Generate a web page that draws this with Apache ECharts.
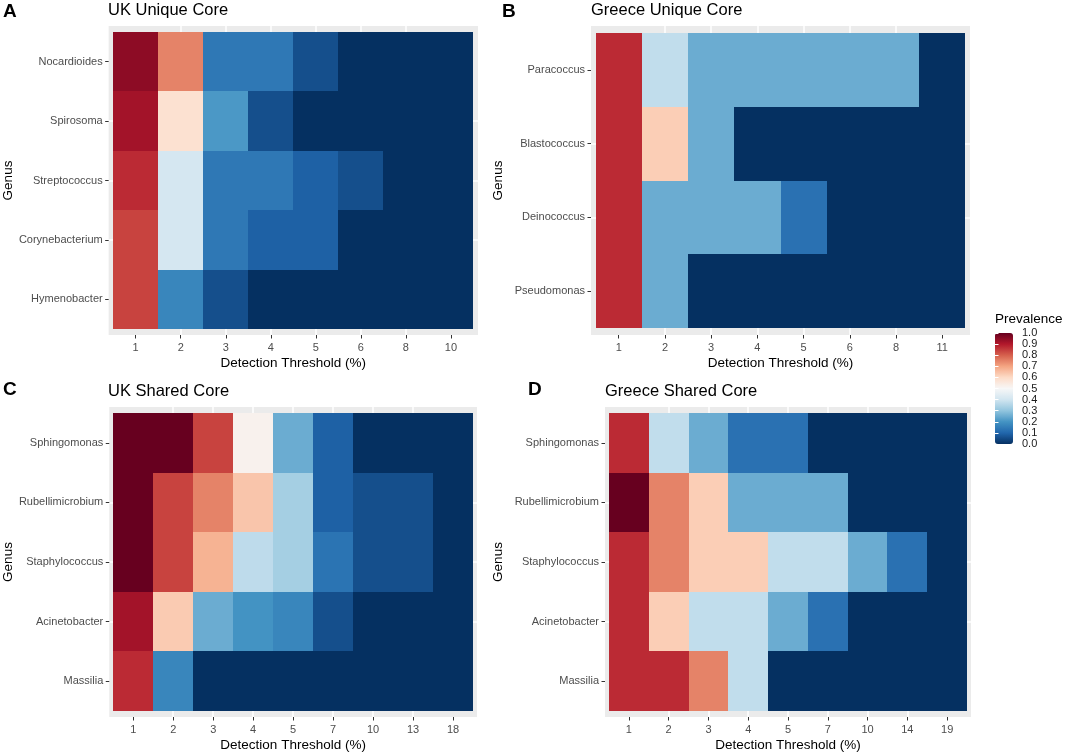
<!DOCTYPE html>
<html>
<head>
<meta charset="utf-8">
<script src="https://cdn.jsdelivr.net/npm/echarts@6/dist/echarts.min.js"></script>
<style>
html,body{margin:0;padding:0;background:#fff;}
#chart{width:1065px;height:754px;}
</style>
</head>
<body>
<div id="chart"></div>
<script>
// ---------------- DATA ----------------
const ukUniqueThresholds = ['1','2','3','4','5','6','8','10'];
const ukUniqueGenus = ['Nocardioides','Spirosoma','Streptococcus','Corynebacterium','Hymenobacter'];
const ukUniquePrev = [
  [0.95, 0.75, 0.14, 0.14, 0.057, 0, 0, 0],
  [0.92, 0.58, 0.21, 0.057, 0, 0, 0, 0],
  [0.875, 0.41, 0.14, 0.14, 0.09, 0.057, 0, 0],
  [0.84, 0.41, 0.14, 0.09, 0.09, 0, 0, 0],
  [0.84, 0.17, 0.057, 0, 0, 0, 0, 0]
];

const grUniqueThresholds = ['1','2','3','4','5','6','8','11'];
const grUniqueGenus = ['Paracoccus','Blastococcus','Deinococcus','Pseudomonas'];
const grUniquePrev = [
  [0.875, 0.375, 0.25, 0.25, 0.25, 0.25, 0.25, 0],
  [0.875, 0.625, 0.25, 0, 0, 0, 0, 0],
  [0.875, 0.25, 0.25, 0.25, 0.125, 0, 0, 0],
  [0.875, 0.25, 0, 0, 0, 0, 0, 0]
];

const ukSharedThresholds = ['1','2','3','4','5','7','10','13','18'];
const sharedGenus = ['Sphingomonas','Rubellimicrobium','Staphylococcus','Acinetobacter','Massilia'];
const ukSharedPrev = [
  [1.0, 1.0, 0.84, 0.52, 0.25, 0.09, 0, 0, 0],
  [1.0, 0.84, 0.75, 0.64, 0.33, 0.09, 0.057, 0.057, 0],
  [1.0, 0.84, 0.675, 0.37, 0.33, 0.13, 0.057, 0.057, 0],
  [0.92, 0.63, 0.25, 0.2, 0.17, 0.057, 0, 0, 0],
  [0.875, 0.17, 0, 0, 0, 0, 0, 0, 0]
];

const grSharedThresholds = ['1','2','3','4','5','7','10','14','19'];
const grSharedPrev = [
  [0.875, 0.375, 0.25, 0.125, 0.125, 0, 0, 0, 0],
  [1.0, 0.75, 0.625, 0.25, 0.25, 0.25, 0, 0, 0],
  [0.875, 0.75, 0.625, 0.625, 0.375, 0.375, 0.25, 0.125, 0],
  [0.875, 0.625, 0.375, 0.375, 0.25, 0.125, 0, 0, 0],
  [0.875, 0.875, 0.75, 0.375, 0, 0, 0, 0, 0]
];

const panelTitles = ['UK Unique Core','Greece Unique Core','UK Shared Core','Greece Shared Core'];
const panelTags = ['A','B','C','D'];
const legendTicks = [0,0.1,0.2,0.3,0.4,0.5,0.6,0.7,0.8,0.9,1.0];
const rdbu = ['#053061','#2166ac','#4393c3','#92c5de','#d1e5f0','#f7f7f7','#fddbc7','#f4a582','#d6604d','#b2182b','#67001f'];

// ---------------- LAYOUT ----------------
const FONT = '"Liberation Sans", Arial, Helvetica, sans-serif';
const panels = [
  {th: ukUniqueThresholds, ge: ukUniqueGenus, pv: ukUniquePrev, grid:{left:108, top:26, width:370, height:309}, gap:90, title:[108,2], tag:[3,2]},
  {th: grUniqueThresholds, ge: grUniqueGenus, pv: grUniquePrev, grid:{left:591, top:26, width:379, height:309}, gap:86, title:[591,2], tag:[502,2]},
  {th: ukSharedThresholds, ge: sharedGenus, pv: ukSharedPrev, grid:{left:108, top:407, width:369, height:310}, gap:90, title:[108,383], tag:[3,380]},
  {th: grSharedThresholds, ge: sharedGenus, pv: grSharedPrev, grid:{left:605, top:407, width:366, height:310}, gap:100, title:[605,383], tag:[528,380]}
];

function renderTile(params, api) {
  const x = api.value(0), y = api.value(1);
  const p1 = api.coord([x - 0.5, y - 0.5]);
  const p2 = api.coord([x + 0.5, y + 0.5]);
  const x0 = Math.round(Math.min(p1[0], p2[0])), x1 = Math.round(Math.max(p1[0], p2[0]));
  const y0 = Math.round(Math.min(p1[1], p2[1])), y1 = Math.round(Math.max(p1[1], p2[1]));
  return {
    type: 'rect',
    shape: {x: x0, y: y0, width: x1 - x0, height: y1 - y0},
    style: {fill: api.visual('color')}
  };
}

const grids = [], xAxes = [], yAxes = [], series = [], titles = [];
panels.forEach((p, i) => {
  grids.push(Object.assign({show: true, backgroundColor: '#EBEBEB', borderWidth: 0}, p.grid));
  const nx = p.th.length, ny = p.ge.length;
  const xVals = p.th.map((_, k) => k + 1);
  const yVals = p.ge.map((_, k) => k + 1);
  xAxes.push({
    type: 'value', gridIndex: i, min: 0.4, max: nx + 0.6, minInterval: 1, maxInterval: 1,
    axisLine: {show: false},
    axisTick: {show: true, length: 3.5, lineStyle: {color: '#333333', width: 1}, customValues: xVals},
    axisLabel: {customValues: xVals, color: '#4D4D4D', fontSize: 11, fontFamily: FONT, margin: 7,
      formatter: v => p.th[Math.round(v) - 1]},
    splitLine: {show: true, showMinLine: false, showMaxLine: false, lineStyle: {color: '#FFFFFF', width: 1.5}},
    name: 'Detection Threshold (%)', nameLocation: 'middle', nameGap: 21,
    nameTextStyle: {color: '#000', fontSize: 13.5, fontFamily: FONT}
  });
  yAxes.push({
    type: 'value', gridIndex: i, min: 0.4, max: ny + 0.6, inverse: true, minInterval: 1, maxInterval: 1,
    axisLine: {show: false},
    axisTick: {show: true, length: 3.5, lineStyle: {color: '#333333', width: 1}, customValues: yVals},
    axisLabel: {customValues: yVals, color: '#4D4D4D', fontSize: 11, fontFamily: FONT, margin: 6,
      formatter: v => p.ge[Math.round(v) - 1]},
    splitLine: {show: true, showMinLine: false, showMaxLine: false, lineStyle: {color: '#FFFFFF', width: 1.5}},
    name: 'Genus', nameLocation: 'middle', nameRotate: 90, nameGap: p.gap,
    nameTextStyle: {color: '#000', fontSize: 13.5, fontFamily: FONT}
  });
  const data = [];
  p.pv.forEach((row, r) => row.forEach((v, c) => data.push([c + 1, r + 1, v])));
  series.push({
    type: 'custom', coordinateSystem: 'cartesian2d', xAxisIndex: i, yAxisIndex: i,
    encode: {x: 0, y: 1}, renderItem: renderTile, data: data, silent: true
  });
  titles.push({text: panelTitles[i], left: p.title[0], top: p.title[1], padding: 0,
    textStyle: {fontSize: 16.5, fontWeight: 'normal', color: '#000', fontFamily: FONT}});
  titles.push({text: panelTags[i], left: p.tag[0], top: p.tag[1], padding: 0,
    textStyle: {fontSize: 19, fontWeight: 'bold', color: '#000', fontFamily: FONT}});
});

// legend
titles.push({text: 'Prevalence', left: 995, top: 312, padding: 0,
  textStyle: {fontSize: 13.5, fontWeight: 'normal', color: '#000', fontFamily: FONT}});
grids.push({left: 995, top: 333, width: 18, height: 111, show: false});
xAxes.push({type: 'value', gridIndex: 4, show: false, min: 0, max: 1});
yAxes.push({type: 'value', gridIndex: 4, position: 'right', min: 0, max: 1, interval: 0.1, z: 10,
  axisLine: {show: false},
  axisTick: {show: true, inside: true, length: 3.5, lineStyle: {color: '#FFFFFF', width: 1}},
  axisLabel: {color: '#1A1A1A', fontSize: 11, fontFamily: FONT, margin: 9,
    formatter: v => legendTicks.indexOf(Math.round(v * 10) / 10) >= 0 ? v.toFixed(1) : ''},
  splitLine: {show: false}});
yAxes.push({type: 'value', gridIndex: 4, position: 'left', min: 0, max: 1, interval: 0.1, z: 10,
  axisLine: {show: false},
  axisTick: {show: true, inside: true, length: 3.5, lineStyle: {color: '#FFFFFF', width: 1}},
  axisLabel: {show: false}, splitLine: {show: false}});

const option = {
  animation: false,
  backgroundColor: '#FFFFFF',
  title: titles,
  grid: grids,
  xAxis: xAxes,
  yAxis: yAxes,
  visualMap: {
    type: 'continuous', min: 0, max: 1, dimension: 2, seriesIndex: [0,1,2,3],
    calculable: false, left: 995, top: 333, itemWidth: 18, itemHeight: 111, padding: 0,
    inRange: {color: rdbu}, text: null, showLabel: false
  },
  series: series
};
const chart = echarts.init(document.getElementById('chart'), null, {renderer: 'canvas'});
chart.setOption(option);
</script>
</body>
</html>
